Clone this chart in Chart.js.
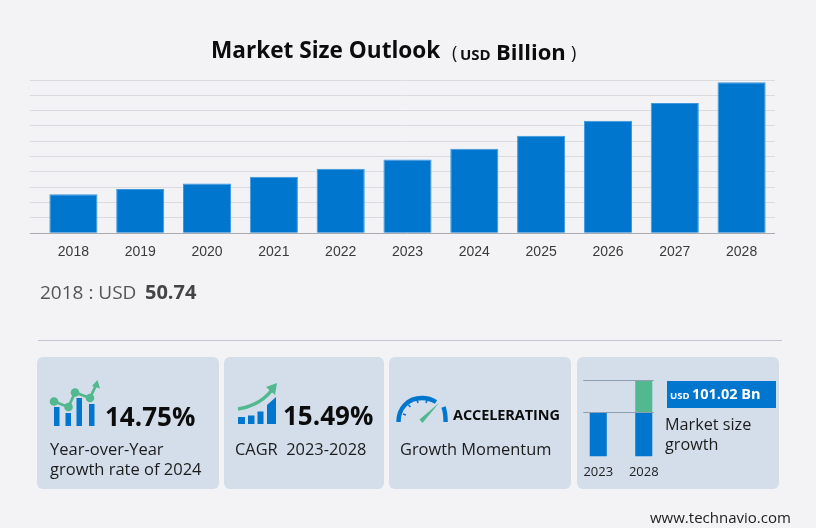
<!DOCTYPE html>
<html><head><meta charset="utf-8">
<script src="https://cdn.jsdelivr.net/npm/chart.js@4/dist/chart.umd.min.js"></script>
<style>
html,body{margin:0;padding:0;background:#f3f3f6;width:816px;height:528px;overflow:hidden}
body{position:relative;font-family:"Open Sans","Noto Sans",sans-serif;color:#1c1c1c}
canvas{position:absolute;display:block}
.t{position:absolute;white-space:nowrap;line-height:1}
.card{position:absolute;top:357px;height:132px;background:#d3deea;border-radius:6px}
svg{position:absolute;left:0;top:0}
</style></head><body>
<div class="card" style="left:37px;width:182px"></div>
<div class="card" style="left:224px;width:160px"></div>
<div class="card" style="left:389px;width:182px"></div>
<div class="card" style="left:577px;width:202px"></div>
<div style="position:absolute;left:38px;width:744px;top:340px;height:1px;background:#c4c6d6"></div>
<canvas id="main" width="816" height="264" style="left:0;top:0"></canvas>
<canvas id="mini" width="110" height="108" style="left:571px;top:372px"></canvas>
<div style="position:absolute;left:667px;top:381px;width:109px;height:27px;background:#0076cf"></div>

<svg width="816" height="528" viewBox="0 0 816 528">
 <g fill="#0076cf">
  <rect x="54" y="407" width="5.5" height="19"/><rect x="65.5" y="413" width="5.5" height="13"/>
  <rect x="76.5" y="398" width="5.5" height="28"/><rect x="89" y="404" width="5.5" height="22"/>
 </g>
 <g fill="#52b88f" stroke="#52b88f">
  <polyline points="54,401.5 68.5,407 75,392.5 90,398 96.5,384" fill="none" stroke-width="2.8"/>
  <circle cx="54" cy="401.5" r="4.3" stroke="none"/><circle cx="68.5" cy="407" r="4.3" stroke="none"/>
  <circle cx="75" cy="392.5" r="4.3" stroke="none"/><circle cx="90" cy="398" r="4.3" stroke="none"/>
  <polygon points="97.5,380 92,386 100,388.5" stroke="none"/>
 </g>
 <g fill="#0076cf">
  <rect x="238" y="417" width="7" height="7"/><rect x="248" y="415.5" width="6.5" height="8.5"/>
  <rect x="257.5" y="411.5" width="6" height="12.5"/><polygon points="267,405 276,397 276,424 267,424"/>
 </g>
 <path d="M238,409 C252,407 264,400 272,390" fill="none" stroke="#52b88f" stroke-width="3.6"/>
 <polygon points="277,383 266,387 275,395" fill="#52b88f"/>
 <g fill="none" stroke="#0076cf" stroke-width="4.4">
  <path d="M398.5,422 C398.5,408 408,398 422,398 C428,398 432,399.5 436,402"/>
  <path d="M443.5,407 C445,411 445.6,416 445.6,422"/>
 </g>
 <g stroke="#0076cf" stroke-width="1.6">
  <line x1="403" y1="414" x2="406" y2="415"/><line x1="408.5" y1="405" x2="410.5" y2="407"/>
  <line x1="417" y1="400" x2="418" y2="403"/><line x1="427" y1="400" x2="426" y2="403"/>
 </g>
 <polygon points="419.5,419.5 422.5,423 439,403" fill="#52b88f"/>
</svg>

<div class="t" style="left:211px;top:39px;font-size:22.6px;font-weight:700;color:#0c0c0c">Market Size Outlook</div>
<div class="t" style="left:452px;top:43px;font-size:18px;color:#111">(</div>
<div class="t" style="left:460px;top:47px;font-size:15px;font-weight:700;color:#111">USD</div>
<div class="t" style="left:496px;top:40px;font-size:22px;font-weight:700;color:#0c0c0c">Billion</div>
<div class="t" style="left:571px;top:43px;font-size:18px;color:#111">)</div>

<div class="t" style="left:40px;top:283px;font-size:19px;color:#555">2018 : USD</div>
<div class="t" style="left:145px;top:282px;font-size:20px;font-weight:700;color:#444">50.74</div>

<div class="t" style="left:105px;top:403px;font-size:26px;font-weight:700;color:#0c0c0c">14.75%</div>
<div class="t" style="left:50px;top:441px;font-size:16.5px">Year-over-Year</div>
<div class="t" style="left:50px;top:461px;font-size:16.5px">growth rate of 2024</div>

<div class="t" style="left:283px;top:402px;font-size:26px;font-weight:700;color:#0c0c0c">15.49%</div>
<div class="t" style="left:235px;top:441px;font-size:16.4px">CAGR&nbsp; 2023-2028</div>

<div class="t" style="left:453px;top:408px;font-size:14.5px;font-weight:700;letter-spacing:-0.1px;color:#0c0c0c">ACCELERATING</div>
<div class="t" style="left:400px;top:441px;font-size:16.4px">Growth Momentum</div>

<div class="t" style="left:670px;top:391px;font-size:9.5px;font-weight:700;color:#fff">USD</div>
<div class="t" style="left:692px;top:387px;font-size:14.5px;font-weight:700;color:#fff">101.02 Bn</div>
<div class="t" style="left:665px;top:416px;font-size:16.2px">Market size</div>
<div class="t" style="left:665px;top:436px;font-size:16.2px">growth</div>

<div class="t" style="left:650px;top:510px;font-size:15px;color:#222">www.technavio.com</div>

<script>
const years = ['2018','2019','2020','2021','2022','2023','2024','2025','2026','2027','2028'];
const marketSize = [50.74,57.7,65,73.8,84.3,96.1,110.3,127.2,146.8,169.9,197.1];
const yAxisMax = 200;
const yAxisStep = 20;
const miniYears = ['2023','2028'];
const miniBase = [96.1,96.1];
const miniGrowth = [0,70];
const BLUE = '#0076cf', GREEN = '#52b88f';

new Chart(document.getElementById('main'), {
  type:'bar',
  data:{labels:years,datasets:[{data:marketSize,backgroundColor:BLUE,borderColor:'#3d98dd',borderWidth:{top:1,left:1,right:1,bottom:0},barPercentage:0.72,categoryPercentage:1}]},
  options:{
    responsive:false,animation:false,devicePixelRatio:1,
    layout:{padding:{left:30,right:41,top:80,bottom:0}},
    plugins:{legend:{display:false},tooltip:{enabled:false},title:{display:false}},
    scales:{
      x:{grid:{display:false},border:{display:false},
         ticks:{color:'#3a3a3a',font:{family:'"Liberation Sans",Arial,sans-serif',size:14},padding:3,maxRotation:0}},
      y:{min:0,max:yAxisMax,border:{display:false},
         grid:{color:c=>c.tick.value===0?'#a9abb1':'#dadbdf',tickLength:10,drawTicks:true,lineWidth:1},
         ticks:{display:false,stepSize:yAxisStep}}
    }
  }
});

const miniGuides = {id:'miniGuides',afterDatasetsDraw(chart){
  const {ctx,scales:{x,y}} = chart;
  const levels = [miniBase[1], miniBase[1]+miniGrowth[1]];
  ctx.save();ctx.strokeStyle='#8f9fb2';ctx.lineWidth=1;
  levels.forEach(v=>{
    const py = Math.round(y.getPixelForValue(v))+0.5;
    ctx.beginPath();
    ctx.moveTo(x.getPixelForValue(0)-15,py);
    ctx.lineTo(x.getPixelForValue(1)+10,py);
    ctx.stroke();
  });
  ctx.restore();
}};
new Chart(document.getElementById('mini'), {
  type:'bar',
  data:{labels:miniYears,datasets:[
    {data:miniBase,backgroundColor:BLUE,stack:'s',barPercentage:0.375,categoryPercentage:1},
    {data:miniGrowth,backgroundColor:GREEN,stack:'s',barPercentage:0.375,categoryPercentage:1}
  ]},
  options:{
    responsive:false,animation:false,devicePixelRatio:1,
    layout:{padding:{left:4.5,right:14.5,top:8,bottom:0}},
    plugins:{legend:{display:false},tooltip:{enabled:false}},
    scales:{
      x:{stacked:true,grid:{display:false},border:{display:false},
         ticks:{color:'#222',font:{family:'"Open Sans",sans-serif',size:13},padding:0,maxRotation:0}},
      y:{stacked:true,display:false,min:0,max:miniBase[1]+miniGrowth[1]}
    }
  },
  plugins:[miniGuides]
});
</script>
</body></html>
